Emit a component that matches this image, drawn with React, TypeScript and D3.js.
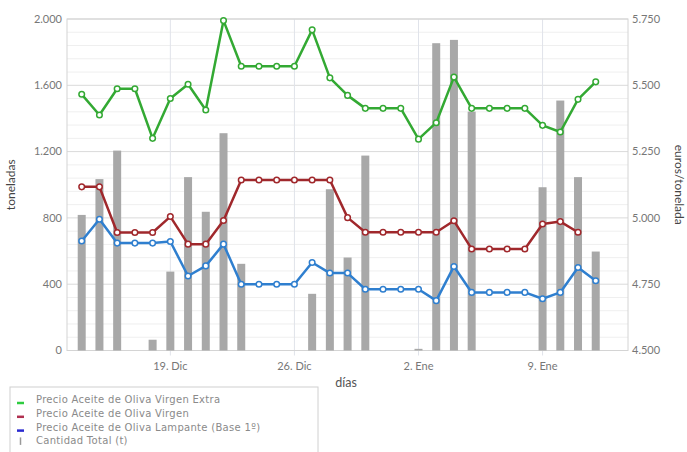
import * as d3 from 'd3'

// days from 14 Dic to 12 Ene
const days = [
  '2012-12-14', '2012-12-15', '2012-12-16', '2012-12-17', '2012-12-18',
  '2012-12-19', '2012-12-20', '2012-12-21', '2012-12-22', '2012-12-23',
  '2012-12-24', '2012-12-25', '2012-12-26', '2012-12-27', '2012-12-28',
  '2012-12-29', '2012-12-30', '2012-12-31', '2013-01-01', '2013-01-02',
  '2013-01-03', '2013-01-04', '2013-01-05', '2013-01-06', '2013-01-07',
  '2013-01-08', '2013-01-09', '2013-01-10', '2013-01-11', '2013-01-12',
]

const cantidad = [
  818, 1034, 1206, 0, 65, 476, 1046, 837, 1311, 523,
  0, 0, 0, 342, 973, 561, 1176, 0, 0, 10,
  1854, 1874, 1441, 0, 0, 0, 985, 1508, 1046, 597,
]

const extra = [
  5466, 5388, 5487, 5487, 5300, 5450, 5504, 5407, 5744, 5572,
  5572, 5572, 5572, 5709, 5528, 5462, 5413, 5413, 5413, 5297,
  5359, 5531, 5413, 5413, 5413, 5413, 5349, 5324, 5447, 5513,
]

const virgen: (number | null)[] = [
  5117, 5117, 4945, 4945, 4945, 5005, 4901, 4901, 4990, 5143,
  5143, 5143, 5143, 5143, 5143, 5001, 4946, 4946, 4946, 4946,
  4946, 4989, 4883, 4883, 4883, 4883, 4977, 4986, 4946, null,
]

const lampante = [
  4913, 4995, 4905, 4905, 4905, 4911, 4781, 4819, 4901, 4750,
  4750, 4750, 4750, 4832, 4792, 4792, 4731, 4731, 4731, 4731,
  4688, 4817, 4719, 4719, 4719, 4719, 4695, 4719, 4813, 4763,
]

const xTicks = ['2012-12-19', '2012-12-26', '2013-01-02', '2013-01-09']
const xTickLabels = ['19. Dic', '26. Dic', '2. Ene', '9. Ene']
const leftTicks = [0, 400, 800, 1200, 1600, 2000]
const leftTickLabels = ['0', '400', '800', '1.200', '1.600', '2.000']
const rightTicks = [4500, 4750, 5000, 5250, 5500, 5750]
const rightTickLabels = ['4.500', '4.750', '5.000', '5.250', '5.500', '5.750']

const series = [
  { name: 'Precio Aceite de Oliva Virgen Extra', values: extra as (number | null)[], color: '#33a933', legend: '#2ecc40' },
  { name: 'Precio Aceite de Oliva Virgen', values: virgen, color: '#a0282c', legend: '#b03050' },
  { name: 'Precio Aceite de Oliva Lampante (Base 1º)', values: lampante as (number | null)[], color: '#2f7fcf', legend: '#2a2ad0' },
]

const W = 687
const H = 452
const plot = { left: 67, right: 628, top: 19, bottom: 350.5 }
const parse = (s: string) => new Date(s + 'T00:00:00')
const DAY = 86400000

const App = () => {
  const x = d3
    .scaleTime()
    .domain([
      new Date(parse(days[0]).getTime() - 0.83 * DAY),
      new Date(parse(days[days.length - 1]).getTime() + 1.82 * DAY),
    ])
    .range([plot.left, plot.right])
  const yL = d3.scaleLinear().domain([0, 2000]).range([plot.bottom, plot.top])
  const yR = d3.scaleLinear().domain([4500, 5750]).range([plot.bottom, plot.top])

  const minor = d3.range(0, 2001, 80)
  const barW = 8
  const font = 'Lato, "Open Sans", sans-serif'
  const legendFont = 'DejaVu Sans, sans-serif'
  const rowH = 13.8

  const line = d3
    .line<number | null>()
    .defined(d => d != null)
    .x((_, i) => x(parse(days[i])))
    .y(d => yR(d as number))

  return (
    <div style={{ position: 'fixed', left: 0, top: 0 }}>
      <svg width={W} height={H} style={{ display: 'block', background: '#fff' }}>
        {minor.map(v => (
          <line key={'m' + v} x1={plot.left} x2={plot.right} y1={yL(v)} y2={yL(v)}
            stroke={v % 400 === 0 ? '#dadada' : '#efefef'} strokeWidth={1} />
        ))}
        {xTicks.map(t => (
          <line key={t} x1={x(parse(t))} x2={x(parse(t))} y1={plot.top} y2={plot.bottom + 5}
            stroke="#e0e3ea" strokeWidth={1} />
        ))}
        <rect x={plot.left} y={plot.top} width={plot.right - plot.left} height={plot.bottom - plot.top}
          fill="none" stroke="#d4d4d4" strokeWidth={1} />
        {cantidad.map((v, i) =>
          v > 0 ? (
            <rect key={'b' + i} x={x(parse(days[i])) - barW / 2} y={yL(v)} width={barW}
              height={Math.max(yL(0) - yL(v), 1.5)} fill="#a8a8a8" />
          ) : null,
        )}
        {series.map(s => (
          <g key={s.name}>
            <path d={line(s.values) || ''} fill="none" stroke={s.color} strokeWidth={2.5}
              strokeLinejoin="round" />
            {s.values.map((v, i) =>
              v == null ? null : (
                <circle key={i} cx={x(parse(days[i]))} cy={yR(v)} r={2.8} fill="#fff"
                  stroke={s.color} strokeWidth={1.5} />
              ),
            )}
          </g>
        ))}
        {leftTicks.map((t, i) => (
          <text key={'l' + t} x={62} y={yL(t)} dy="0.35em" textAnchor="end" fontSize={11}
            fontFamily={font} fill="#777">{leftTickLabels[i]}</text>
        ))}
        {rightTicks.map((t, i) => (
          <text key={'r' + t} x={632} y={yR(t)} dy="0.35em" textAnchor="start" fontSize={11}
            fontFamily={font} fill="#777">{rightTickLabels[i]}</text>
        ))}
        {xTicks.map((t, i) => (
          <text key={'x' + t} x={x(parse(t))} y={370} textAnchor="middle" fontSize={11}
            fontFamily={font} fill="#777">{xTickLabels[i]}</text>
        ))}
        <text x={346} y={387} textAnchor="middle" fontSize={12.5} fontFamily={font} fill="#555">días</text>
        <text transform={`translate(15,${(plot.top + plot.bottom) / 2}) rotate(-90)`} textAnchor="middle"
          fontSize={12} fontFamily={font} fill="#444">toneladas</text>
        <text transform={`translate(675,${(plot.top + plot.bottom) / 2}) rotate(90)`} textAnchor="middle"
          fontSize={12} fontFamily={font} fill="#444">euros/tonelada</text>
        <g>
          <rect x={10} y={387} width={308} height={70} fill="#fff" stroke="#d0d0d0" strokeWidth={1} />
          {series.map((s, i) => (
            <g key={'lg' + i} transform={`translate(17,${399.5 + i * rowH})`}>
              <line x1={0} x2={7} y1={3.5} y2={3.5} stroke={s.legend} strokeWidth={2.5} />
              <text x={19} y={0} dy="0.35em" fontSize={10} fontFamily={legendFont} letterSpacing={0.3}
                fill="#8a8a8a">{s.name}</text>
            </g>
          ))}
          <g transform={`translate(17,${399.5 + 3 * rowH})`}>
            <line x1={3.5} x2={3.5} y1={-3.5} y2={4} stroke="#999" strokeWidth={1.5} />
            <text x={19} y={0} dy="0.35em" fontSize={10} fontFamily={legendFont} letterSpacing={0.3}
              fill="#8a8a8a">Cantidad Total (t)</text>
          </g>
        </g>
      </svg>
    </div>
  )
}

export default App
